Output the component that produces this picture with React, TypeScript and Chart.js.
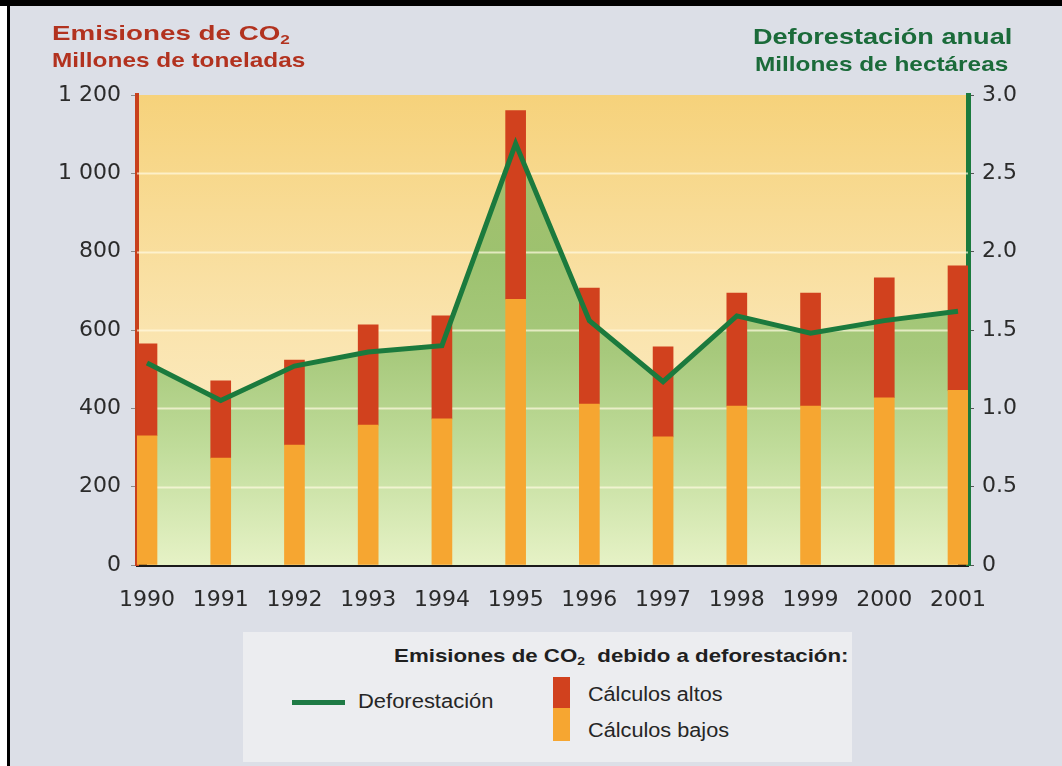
import React, { useEffect, useLayoutEffect, useRef } from 'react';
import { Chart, registerables } from 'chart.js';

Chart.register(...registerables);

const years = ['1990', '1991', '1992', '1993', '1994', '1995', '1996', '1997', '1998', '1999', '2000', '2001'];
const lowEstimates = [330, 273, 306, 357, 373, 678, 411, 327, 406, 406, 427, 446];
const highEstimates = [565, 470, 523, 613, 636, 1160, 707, 557, 694, 694, 733, 764];
const deforestation = [1.29, 1.05, 1.27, 1.36, 1.4, 2.69, 1.56, 1.17, 1.59, 1.48, 1.56, 1.62];
const leftTickLabels: Record<number, string> = { 0: '0', 200: '200', 400: '400', 600: '600', 800: '800', 1000: '1 000', 1200: '1 200' };
const rightTickLabels: Record<string, string> = { '0': '0', '0.5': '0.5', '1': '1.0', '1.5': '1.5', '2': '2.0', '2.5': '2.5', '3': '3.0' };

const W = 1062;
const H = 766;
const AREA_LEFT = 137;
const AREA_RIGHT = 968;
const AREA_TOP = 95;
const AREA_BOTTOM = 565;

const TICK_FONT = { family: '"DejaVu Sans", sans-serif', size: 22 };

type FitProps = {
  children: React.ReactNode;
  x: number;
  width: number;
  baseline: number;
  size: number;
  color: string;
  bold?: boolean;
  anchor?: 'left' | 'right';
};

function FitText({ children, x, width, baseline, size, color, bold, anchor = 'left' }: FitProps) {
  const ref = useRef<HTMLDivElement>(null);
  useLayoutEffect(() => {
    const el = ref.current;
    if (!el) return;
    const w = el.offsetWidth;
    if (w > 0) el.style.transform = `scaleX(${width / w})`;
  }, [width]);
  const style: React.CSSProperties = {
    position: 'absolute',
    top: baseline - 0.8465 * size,
    fontFamily: '"Liberation Sans", Arial, sans-serif',
    fontSize: size,
    lineHeight: `${size}px`,
    fontWeight: bold ? 'bold' : 'normal',
    color,
    whiteSpace: 'nowrap',
    transformOrigin: anchor === 'right' ? 'right top' : 'left top',
  };
  if (anchor === 'right') style.right = W - x;
  else style.left = x;
  return (
    <div ref={ref} style={style}>
      {children}
    </div>
  );
}

const sub: React.CSSProperties = { fontSize: '0.62em', verticalAlign: '-0.28em', lineHeight: 0 };

export default function App() {
  const canvasRef = useRef<HTMLCanvasElement>(null);

  useEffect(() => {
    const canvas = canvasRef.current;
    if (!canvas) return;

    const bgPlugin = {
      id: 'bgPlugin',
      beforeDraw(chart: any) {
        const { ctx, chartArea } = chart;
        if (!chartArea) return;
        const g = ctx.createLinearGradient(0, chartArea.top, 0, chartArea.bottom);
        g.addColorStop(0, '#f6d27b');
        g.addColorStop(0.5, '#fae4ae');
        g.addColorStop(1, '#fdf2d4');
        ctx.save();
        ctx.fillStyle = g;
        ctx.fillRect(chartArea.left, chartArea.top, chartArea.right - chartArea.left, chartArea.bottom - chartArea.top);
        ctx.restore();
      },
    };

    const gridPlugin = {
      id: 'gridPlugin',
      beforeDatasetsDraw(chart: any) {
        const { ctx, chartArea } = chart;
        const y = chart.scales.y;
        ctx.save();
        ctx.strokeStyle = 'rgba(255, 250, 225, 0.7)';
        ctx.lineWidth = 2;
        y.ticks.forEach((t: any) => {
          if (t.value <= 0 || t.value >= 1200) return;
          const py = Math.round(y.getPixelForValue(t.value)) + 0.5;
          ctx.beginPath();
          ctx.moveTo(chartArea.left, py);
          ctx.lineTo(chartArea.right, py);
          ctx.stroke();
        });
        ctx.restore();
      },
    };

    const chart = new Chart(canvas, {
      type: 'bar',
      data: {
        datasets: [
          {
            type: 'line',
            label: 'Deforestación',
            data: deforestation.map((v, i) => ({ x: i, y: v })),
            yAxisID: 'y2',
            borderColor: '#1b7a3d',
            borderWidth: 5,
            pointRadius: 0,
            tension: 0,
            borderJoinStyle: 'miter',
            fill: 'origin',
            backgroundColor: (c: any) => {
              const area = c.chart.chartArea;
              if (!area) return 'rgba(150,190,100,0.6)';
              const g = c.chart.ctx.createLinearGradient(0, area.top, 0, area.bottom);
              g.addColorStop(0, '#a9be6c');
              g.addColorStop(0.35, '#9dc26f');
              g.addColorStop(0.55, '#a7c97c');
              g.addColorStop(0.75, '#c0dc9a');
              g.addColorStop(1, '#e6f2c6');
              return g;
            },
            order: 0,
          } as any,
          {
            type: 'bar',
            label: 'Cálculos bajos',
            data: lowEstimates.map((v, i) => ({ x: i, y: v })),
            backgroundColor: '#f6a631',
            barThickness: 20,
            stack: 'co2',
            order: 1,
          },
          {
            type: 'bar',
            label: 'Cálculos altos',
            data: highEstimates.map((v, i) => ({ x: i, y: v - lowEstimates[i] })),
            backgroundColor: '#d1411e',
            barThickness: 20,
            stack: 'co2',
            order: 1,
          },
        ],
      },
      options: {
        animation: false,
        responsive: false,
        devicePixelRatio: 1,
        layout: { padding: { top: AREA_TOP, left: 0, right: 0, bottom: 0 } },
        plugins: {
          legend: { display: false },
          tooltip: { enabled: false },
          filler: { drawTime: 'beforeDatasetsDraw' },
        } as any,
        scales: {
          x: {
            type: 'linear',
            position: 'bottom',
            offset: false,
            min: -0.1356,
            max: 11.1356,
            stacked: true,
            z: 1,
            afterBuildTicks: (s: any) => {
              s.ticks = years.map((_, i) => ({ value: i }));
            },
            afterFit: (s: any) => {
              s.height = H - AREA_BOTTOM;
            },
            ticks: {
              callback: (v: any) => years[v] ?? '',
              font: TICK_FONT,
              color: '#2b2b2b',
              padding: 14,
              maxRotation: 0,
              autoSkip: false,
            },
            grid: { display: false, offset: false },
            border: { display: true, color: '#1a1a1a', width: 3 },
          },
          y: {
            type: 'linear',
            position: 'left',
            min: 0,
            max: 1200,
            stacked: true,
            z: 1,
            afterFit: (s: any) => {
              s.width = AREA_LEFT;
            },
            ticks: {
              stepSize: 200,
              callback: (v: any) => leftTickLabels[v] ?? '',
              font: TICK_FONT,
              color: '#2b2b2b',
              padding: 10,
            },
            grid: { drawOnChartArea: false, drawTicks: true, tickLength: 6, color: '#8c8c8c', lineWidth: 1 },
            border: { display: true, color: '#c8401c', width: 4 },
          },
          y2: {
            type: 'linear',
            position: 'right',
            min: 0,
            max: 3,
            z: 1,
            afterFit: (s: any) => {
              s.width = W - AREA_RIGHT;
            },
            ticks: {
              stepSize: 0.5,
              callback: (v: any) => rightTickLabels[String(v)] ?? '',
              font: TICK_FONT,
              color: '#2b2b2b',
              padding: 8,
            },
            grid: { drawOnChartArea: false, drawTicks: true, tickLength: 6, color: '#555555', lineWidth: 1 },
            border: { display: true, color: '#1b7a3d', width: 5 },
          },
        },
      },
      plugins: [bgPlugin, gridPlugin],
    } as any);

    return () => chart.destroy();
  }, []);

  return (
    <div style={{ position: 'absolute', left: 0, top: 0, width: W, height: H, background: '#dcdfe7', overflow: 'hidden' }}>
      <div style={{ position: 'absolute', left: 0, top: 0, width: 7, height: H, background: '#ffffff' }} />
      <div style={{ position: 'absolute', left: 7, top: 0, width: 3, height: H, background: '#000000' }} />
      <div style={{ position: 'absolute', left: 0, top: 0, width: W, height: 6, background: '#000000' }} />
      <canvas ref={canvasRef} width={W} height={H} style={{ position: 'absolute', left: 0, top: 0, display: 'block' }} />

      <FitText x={52} width={238} baseline={40} size={21} color="#b2321f" bold>
        Emisiones de CO<span style={sub}>2</span>
      </FitText>
      <FitText x={52} width={253} baseline={67} size={21} color="#b2321f" bold>
        Millones de toneladas
      </FitText>
      <FitText x={1012} width={259} baseline={45} size={22} color="#1b6b3a" bold anchor="right">
        Deforestación anual
      </FitText>
      <FitText x={1008} width={253} baseline={71} size={21} color="#1b6b3a" bold anchor="right">
        Millones de hectáreas
      </FitText>

      <div style={{ position: 'absolute', left: 243, top: 632, width: 609, height: 130, background: '#ecedf0' }} />
      <FitText x={848} width={455} baseline={663} size={18.5} color="#1f1f1f" bold anchor="right">
        Emisiones de CO<span style={sub}>2</span>{'\u00a0\u00a0'}debido a deforestación:
      </FitText>
      <div style={{ position: 'absolute', left: 292, top: 700, width: 53, height: 5, background: '#1e7a45' }} />
      <FitText x={358} width={135} baseline={708} size={20} color="#262626">
        Deforestación
      </FitText>
      <div style={{ position: 'absolute', left: 553, top: 677, width: 17, height: 31, background: '#d1411e' }} />
      <div style={{ position: 'absolute', left: 553, top: 708, width: 17, height: 33, background: '#f6a631' }} />
      <FitText x={588} width={135} baseline={701} size={20} color="#262626">
        Cálculos altos
      </FitText>
      <FitText x={588} width={141} baseline={737} size={20} color="#262626">
        Cálculos bajos
      </FitText>
    </div>
  );
}
